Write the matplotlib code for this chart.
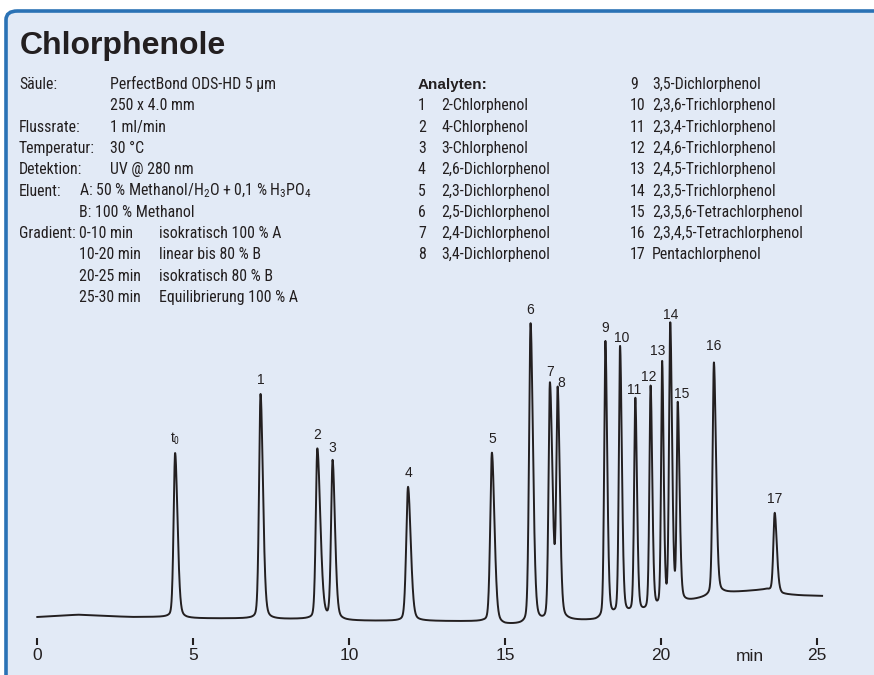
import numpy as np
import matplotlib.pyplot as plt
from matplotlib import font_manager
from matplotlib.patches import FancyBboxPatch

# --- data ---------------------------------------------------------------
peak_names = ['t$_0$', '1', '2', '3', '4', '5', '6', '7', '8', '9',
              '10', '11', '12', '13', '14', '15', '16', '17']
peak_rt = [4.42, 7.16, 8.98, 9.47, 11.89, 14.58, 15.82, 16.44, 16.69, 18.22,
           18.69, 19.18, 19.67, 20.04, 20.30, 20.54, 21.70, 23.65]
peak_top = [192, 251, 196, 183, 158, 192, 321, 259, 248, 303,
            297, 245, 257, 280, 318, 237, 282, 132]
# peak half widths (min), front / tail
width_front = [0.05, 0.05, 0.05, 0.05, 0.06, 0.055, 0.05, 0.045, 0.045, 0.04,
               0.04, 0.04, 0.04, 0.035, 0.04, 0.035, 0.045, 0.045]
width_tail = [0.08, 0.08, 0.10, 0.08, 0.09, 0.085, 0.08, 0.085, 0.07, 0.06,
              0.06, 0.055, 0.055, 0.05, 0.06, 0.06, 0.07, 0.07]

# baseline drift
base_t = [0.0, 0.6, 1.3, 2.2, 3.0, 4.2, 4.8, 6.8, 7.5, 8.7, 9.9, 11.6, 14.3,
          15.0, 15.5, 16.1, 17.0, 17.9, 18.5, 19.0, 19.5, 19.9, 20.3, 20.9,
          21.5, 22.0, 23.4, 23.9, 24.5, 25.17]
base_y = [28, 29, 30.3, 29, 28, 28, 26.5, 26.5, 25.5, 26, 24, 24, 23.5,
          20, 20.5, 22, 23.5, 24.5, 28, 30, 32, 35, 38, 43,
          48, 51.5, 55.5, 50.5, 49.5, 49]

x_ticks = [0, 5, 10, 15, 20, 25]

method_rows = [('Säule:', 'PerfectBond ODS-HD 5 µm'),
               ('', '250 x 4.0 mm'),
               ('Flussrate:', '1 ml/min'),
               ('Temperatur:', '30 °C'),
               ('Detektion:', 'UV @ 280 nm')]
eluent_rows = ['A: 50 % Methanol/H$_2$O + 0,1 % H$_3$PO$_4$',
               'B: 100 % Methanol']
gradient_times = ['0-10 min', '10-20 min', '20-25 min', '25-30 min']
gradient_steps = ['isokratisch 100 % A', 'linear bis 80 % B',
                  'isokratisch 80 % B', 'Equilibrierung 100 % A']
analytes = ['2-Chlorphenol', '4-Chlorphenol', '3-Chlorphenol',
            '2,6-Dichlorphenol', '2,3-Dichlorphenol', '2,5-Dichlorphenol',
            '2,4-Dichlorphenol', '3,4-Dichlorphenol', '3,5-Dichlorphenol',
            '2,3,6-Trichlorphenol', '2,3,4-Trichlorphenol',
            '2,4,6-Trichlorphenol', '2,4,5-Trichlorphenol',
            '2,3,5-Trichlorphenol', '2,3,5,6-Tetrachlorphenol',
            '2,3,4,5-Tetrachlorphenol', 'Pentachlorphenol']

# --- fonts ----------------------------------------------------------------
installed = {f.name for f in font_manager.fontManager.ttflist}


def first_font(names):
    for n in names:
        if n in installed:
            return n
    return 'DejaVu Sans'


narrow = first_font(['Nimbus Sans Narrow', 'Liberation Sans Narrow',
                     'Roboto Condensed', 'Archivo Narrow', 'Barlow Semi Condensed'])
sans = first_font(['Nimbus Sans', 'Liberation Sans', 'Arimo'])
plt.rcParams['font.family'] = [sans, 'DejaVu Sans']
plt.rcParams['mathtext.fontset'] = 'custom'
plt.rcParams['mathtext.rm'] = narrow
plt.rcParams['mathtext.it'] = narrow
plt.rcParams['mathtext.bf'] = narrow

INK = '#231f20'
W, H = 874, 675


def fx(x):
    return x / W


def fy(y):
    return 1 - y / H


fig = plt.figure(figsize=(8.74, 6.75), dpi=100, facecolor='white')

# light blue panel with blue edge, rounded top-left corner
panel = FancyBboxPatch((fx(6), fy(700)), 1.2, fy(11) - fy(700),
                       boxstyle='round,pad=0,rounding_size=0.013',
                       transform=fig.transFigure, facecolor='#e2eaf6',
                       edgecolor='#2a72b5', linewidth=2.6, zorder=-5)
fig.patches.append(panel)

# --- chromatogram ----------------------------------------------------------
ax = fig.add_axes([0, fy(645), 1, 1 - fy(645)])
ax.set_facecolor('none')
px_per_min = 31.18
x0 = 37.3
ax.set_xlim(-x0 / px_per_min, (W - x0) / px_per_min)
ax.set_ylim(0, 645)

t = np.linspace(0, 25.17, 6000)
baseline = np.interp(t, base_t, base_y)
signal = baseline.copy()
eta = 0.3
for rt, top, wf, wt in zip(peak_rt, peak_top, width_front, width_tail):
    amp = top - np.interp(rt, base_t, base_y)
    d = t - rt
    w = np.where(d < 0, wf, wt)
    shape = (1 - eta) * np.exp(-d ** 2 / (2 * w ** 2)) + eta / (1 + (d / w) ** 2)
    signal += amp * shape

ax.plot(t, signal, color=INK, lw=1.4, solid_joinstyle='round')

label_nudge = {'8': (0.1, 0), '13': (-0.15, 0), '15': (0.12, 0),
               '10': (0.05, -4), '11': (-0.05, -4), '12': (-0.05, -3),
               '16': (0, 3), '14': (0, -2)}
for name, rt, top in zip(peak_names, peak_rt, peak_top):
    dx, dy = label_nudge.get(name, (0, 0))
    ax.text(rt + dx, top + 10 + dy, name, ha='center', va='baseline',
            fontsize=10, color=INK)

for s in ax.spines.values():
    s.set_visible(False)
ax.set_yticks([])
ax.set_xticks(x_ticks)
ax.set_xticklabels([str(v) for v in x_ticks])
ax.tick_params(axis='x', direction='in', length=5, width=1.5, pad=2,
               labelsize=12.5, colors=INK)
ax.text(22.86, -4, 'min', ha='center', va='top', fontsize=12.5, color=INK)

# --- text blocks ----------------------------------------------------------
fig.text(fx(20), fy(54), 'Chlorphenole', fontsize=23, fontweight='bold',
         color=INK, va='baseline')

row0, step = 89, 21.3
fs = 11.4
k = 0
for label, value in method_rows:
    y = fy(row0 + step * k)
    fig.text(fx(19), y, label, family=narrow, fontsize=fs, color=INK, va='baseline')
    fig.text(fx(110), y, value, family=narrow, fontsize=fs, color=INK, va='baseline')
    k += 1
for i, row in enumerate(eluent_rows):
    y = fy(row0 + step * k)
    if i == 0:
        fig.text(fx(19), y, 'Eluent:', family=narrow, fontsize=fs, color=INK, va='baseline')
    fig.text(fx(79), y, row, family=narrow, fontsize=fs, color=INK, va='baseline')
    k += 1
for i, (tm, st) in enumerate(zip(gradient_times, gradient_steps)):
    y = fy(row0 + step * k)
    if i == 0:
        fig.text(fx(19), y, 'Gradient:', family=narrow, fontsize=fs, color=INK, va='baseline')
    fig.text(fx(79), y, tm, family=narrow, fontsize=fs, color=INK, va='baseline')
    fig.text(fx(159), y, st, family=narrow, fontsize=fs, color=INK, va='baseline')
    k += 1

fig.text(fx(418), fy(row0), 'Analyten:', fontsize=11, fontweight='bold',
         color=INK, va='baseline')
for i, name in enumerate(analytes):
    if i < 8:
        xn, xs, r = 418, 441, i + 1
    else:
        xn, xs, r = 630, 652, i - 8
    y = fy(row0 + step * r)
    fig.text(fx(xn), y, str(i + 1), family=narrow, fontsize=fs, color=INK, va='baseline')
    fig.text(fx(xs), y, name, family=narrow, fontsize=fs, color=INK, va='baseline')

fig.savefig('out.png', dpi=100, facecolor='white')
